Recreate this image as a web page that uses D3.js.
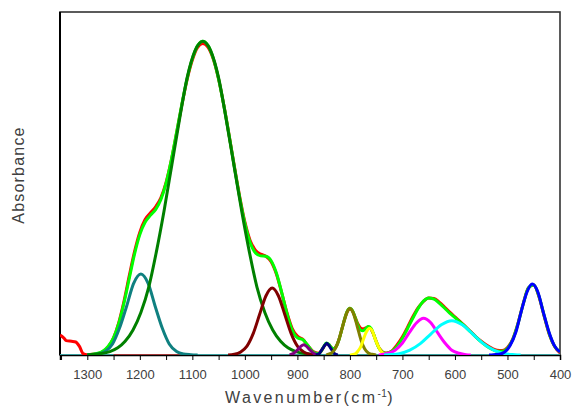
<!DOCTYPE html>
<html>
<head>
<meta charset="utf-8">
<script src="https://cdn.jsdelivr.net/npm/d3@7"></script>
<style>
  body { margin: 0; background: #fff; }
  .tick text { font-family: "Liberation Sans", Arial, sans-serif; font-size: 13px; fill: #404040; }
</style>
</head>
<body>
<div id="chart"></div>
<script>
// --------------------------------------------------------------------------------------
// data - wavenumber (cm-1), absorbance (arb. units)
// --------------------------------------------------------------------------------------
var xTicks = [1300, 1200, 1100, 1000, 900, 800, 700, 600, 500, 400];
var xMinorTicks = [1350, 1250, 1150, 1050, 950, 850, 750, 650, 550, 450];

// measured spectrum (red)
var specWn  = [1352, 1345, 1340, 1330, 1322, 1315, 1308, 1300, 1290, 1280, 1270, 1260, 1250, 1240, 1230, 1220, 1210, 1200,
               1190, 1180, 1170, 1160, 1150, 1140, 1130, 1120, 1110, 1100, 1090, 1080, 1070, 1060, 1050, 1040, 1030, 1020,
               1010, 1000, 990, 980, 970, 960, 950, 940, 930, 920, 910, 900, 890, 880, 870, 860, 855, 850, 845, 840, 835,
               830, 825, 820, 815, 810, 805, 800, 795, 790, 785, 780, 775, 770, 765, 760, 755, 750, 745, 740, 735, 730,
               720, 710, 700, 690, 680, 670, 660, 650, 640, 630, 620, 610, 600, 590, 580, 570, 560, 550, 540, 530, 520,
               510, 500, 490, 480, 470, 460, 450, 440, 430, 420, 410, 400];
var specAbs = [0.058, 0.050, 0.042, 0.040, 0.038, 0.025, 0.004, 0.001, 0.002, 0.004, 0.010, 0.024, 0.050, 0.095, 0.158, 0.232, 0.302, 0.358,
               0.395, 0.414, 0.432, 0.458, 0.503, 0.568, 0.647, 0.729, 0.803, 0.860, 0.897, 0.908, 0.897, 0.862, 0.804, 0.728, 0.641, 0.550,
               0.463, 0.388, 0.334, 0.306, 0.294, 0.288, 0.272, 0.236, 0.182, 0.124, 0.078, 0.055, 0.046, 0.027, 0.010, 0.005, 0.011, 0.023, 0.033, 0.030, 0.021,
               0.019, 0.029, 0.050, 0.077, 0.104, 0.126, 0.134, 0.128, 0.110, 0.091, 0.079, 0.076, 0.079, 0.082, 0.076, 0.060, 0.040, 0.022, 0.012, 0.007, 0.006,
               0.012, 0.030, 0.053, 0.082, 0.112, 0.138, 0.156, 0.166, 0.165, 0.154, 0.140, 0.125, 0.111, 0.097, 0.083, 0.068, 0.053, 0.040, 0.029, 0.020, 0.014,
               0.013, 0.022, 0.046, 0.092, 0.150, 0.196, 0.204, 0.170, 0.112, 0.058, 0.024, 0.006];

// cumulative fit (bright green)
var fitWn  = [1300, 1290, 1280, 1270, 1260, 1250, 1240, 1230, 1220, 1210, 1200, 1190, 1180, 1170, 1160, 1150, 1140, 1130, 1120,
              1110, 1100, 1090, 1080, 1070, 1060, 1050, 1040, 1030, 1020, 1010, 1000, 990, 980, 970, 960, 950, 940, 930, 920,
              910, 900, 890, 880, 870, 860, 855, 850, 845, 840, 835, 830, 825, 820, 815, 810, 805, 800, 795, 790, 785, 780,
              775, 770, 765, 760, 755, 750, 745, 740, 735, 730, 720, 710, 700, 690, 680, 670, 660, 650, 640, 630, 620, 610,
              600, 590, 580, 570, 560, 550, 540, 530, 520, 510, 500, 490, 480, 470, 460, 450, 440, 430, 420, 410, 400];
var fitAbs = [0.001, 0.002, 0.005, 0.012, 0.026, 0.051, 0.093, 0.153, 0.224, 0.295, 0.351, 0.387, 0.407, 0.424, 0.453, 0.501, 0.569, 0.649, 0.731,
              0.806, 0.864, 0.902, 0.915, 0.902, 0.864, 0.804, 0.727, 0.640, 0.548, 0.460, 0.384, 0.328, 0.298, 0.289, 0.288, 0.275, 0.239, 0.183, 0.122,
              0.073, 0.050, 0.045, 0.028, 0.009, 0.004, 0.011, 0.024, 0.035, 0.031, 0.021, 0.018, 0.028, 0.049, 0.077, 0.105, 0.128, 0.136, 0.129, 0.109, 0.087, 0.073,
              0.071, 0.077, 0.083, 0.078, 0.061, 0.039, 0.021, 0.011, 0.006, 0.005, 0.011, 0.026, 0.049, 0.078, 0.108, 0.136, 0.157, 0.166, 0.163, 0.151, 0.137, 0.122,
              0.109, 0.096, 0.082, 0.067, 0.052, 0.038, 0.026, 0.017, 0.011, 0.011, 0.020, 0.045, 0.091, 0.149, 0.196, 0.205, 0.171, 0.114, 0.060, 0.025, 0.009];

// fitted component bands [wavenumber, absorbance]
var band1198 = [[1300, 0], [1293, 0.001], [1279, 0.003], [1266, 0.010], [1252, 0.032], [1239, 0.077], [1225, 0.143], [1212, 0.208], [1198, 0.236],
                [1184, 0.208], [1171, 0.143], [1157, 0.077], [1144, 0.032], [1130, 0.010], [1117, 0.003], [1103, 0.001], [1090, 0]];
var band1080 = [[1300, 0], [1286, 0.002], [1257, 0.010], [1242, 0.021], [1228, 0.040], [1213, 0.073], [1198, 0.124], [1183, 0.198], [1169, 0.297],
                [1154, 0.419], [1139, 0.555], [1124, 0.691], [1110, 0.808], [1095, 0.887], [1080, 0.915], [1065, 0.887], [1050, 0.808],
                [1036, 0.691], [1021, 0.555], [1006, 0.419], [991, 0.297], [977, 0.198], [962, 0.124], [947, 0.073], [932, 0.040],
                [918, 0.021], [903, 0.010], [874, 0.002], [860, 0]];
var band948  = [[1032, 0], [1020, 0.002], [1008, 0.009], [996, 0.026], [984, 0.063], [972, 0.118], [960, 0.172], [948, 0.195],
                [936, 0.172], [924, 0.118], [912, 0.063], [900, 0.026], [888, 0.009], [876, 0.002], [864, 0]];
var band888  = [[915, 0], [908, 0.004], [898, 0.018], [893, 0.026], [888, 0.030], [883, 0.026], [878, 0.018], [868, 0.004], [861, 0]];
var band844  = [[865, 0], [858, 0.005], [851, 0.021], [847, 0.030], [844, 0.034], [841, 0.030], [837, 0.021], [830, 0.005], [823, 0]];
var band800  = [[845, 0], [842, 0.002], [835, 0.006], [828, 0.018], [821, 0.044], [814, 0.083], [807, 0.120], [800, 0.136], [793, 0.120],
                [786, 0.083], [779, 0.044], [772, 0.018], [765, 0.006], [758, 0.002], [750, 0]];
var band763  = [[800, 0], [796, 0.001], [790, 0.003], [785, 0.011], [779, 0.025], [774, 0.047], [768, 0.069], [763, 0.078], [757, 0.069],
                [752, 0.047], [746, 0.025], [741, 0.011], [735, 0.003], [730, 0.001], [725, 0]];
var band660  = [[745, 0], [741, 0.001], [727, 0.005], [714, 0.014], [700, 0.035], [687, 0.065], [673, 0.094], [660, 0.107], [646, 0.094],
                [633, 0.065], [619, 0.035], [606, 0.014], [592, 0.005], [579, 0.001], [570, 0]];
var band606  = [[735, 0], [726, 0.001], [706, 0.004], [686, 0.014], [666, 0.033], [646, 0.061], [626, 0.088], [606, 0.100], [586, 0.088],
                [566, 0.061], [546, 0.033], [526, 0.014], [506, 0.004], [486, 0.001], [475, 0]];
var band453  = [[535, 0], [527, 0.001], [516, 0.002], [505, 0.009], [495, 0.028], [484, 0.067], [474, 0.126], [463, 0.183], [453, 0.207],
                [442, 0.183], [432, 0.126], [421, 0.067], [411, 0.028], [400, 0.009]];
var baseSegment = [[1250, 0], [1115, 0]];

var bands      = [band1198, band1080, band948, band888, band844, band800, band763, band660, band606, band453];
var bandColors = ["#0f8080", "#008000", "#800000", "#800080", "#000080", "#808000", "#ffff00", "#ff00ff", "#00ffff", "#0000ff"];

// --------------------------------------------------------------------------------------
// draw
// --------------------------------------------------------------------------------------
function graph()
{
  var width = 576, height = 410;
  var margin = {top: 12, right: 16, bottom: 55, left: 60};
  var w = width - margin.left - margin.right;
  var h = height - margin.top - margin.bottom;

  var x = d3.scaleLinear().domain([1352, 400]).range([0, w]);
  var y = d3.scaleLinear().domain([0, 1]).range([h, 0]);

  var svg = d3.select("#chart").append("svg")
      .attr("width", width)
      .attr("height", height)
    .append("g")
      .attr("transform", "translate(" + margin.left + "," + margin.top + ")");

  svg.append("clipPath").attr("id", "clip")
    .append("rect").attr("x", 0).attr("y", -2).attr("width", w).attr("height", h + 2);

  // frame
  svg.append("rect")
    .attr("width", w).attr("height", h)
    .attr("fill", "none").attr("stroke", "#333").attr("stroke-width", 1.6);

  // minor + major ticks on the bottom axis
  svg.append("g")
      .attr("transform", "translate(0," + h + ")")
      .call(d3.axisBottom(x).tickValues(xMinorTicks).tickSize(5).tickFormat(""))
      .call(function(g) { g.select(".domain").remove(); });

  var xAxis = svg.append("g")
      .attr("transform", "translate(0," + h + ")")
      .call(d3.axisBottom(x).tickValues(xTicks).tickSize(5).tickPadding(10).tickFormat(d3.format("d")));
  xAxis.select(".domain").attr("stroke", "#000").attr("stroke-width", 1.5);

  // left axis line
  svg.append("line")
    .attr("x1", 0).attr("x2", 0).attr("y1", 0).attr("y2", h)
    .attr("stroke", "#000").attr("stroke-width", 2);

  var line = d3.line()
      .x(function(d) { return x(d[0]); })
      .y(function(d) { return y(d[1]); })
      .curve(d3.curveMonotoneX);

  var plot = svg.append("g").attr("clip-path", "url(#clip)");

  // teal zero line of the fit
  plot.append("line")
    .attr("x1", x(1352)).attr("x2", x(400)).attr("y1", y(0)).attr("y2", y(0))
    .attr("stroke", "#3b9d9d").attr("stroke-width", 2);

  plot.append("path")
    .datum(baseSegment)
    .attr("d", line)
    .attr("fill", "none").attr("stroke", "#a03a3a").attr("stroke-width", 2);

  // measured spectrum
  plot.append("path")
    .datum(d3.zip(specWn, specAbs))
    .attr("d", line)
    .attr("fill", "none").attr("stroke", "#ff0000").attr("stroke-width", 3);

  // cumulative fit
  plot.append("path")
    .datum(d3.zip(fitWn, fitAbs))
    .attr("d", line)
    .attr("fill", "none").attr("stroke", "#00ff00").attr("stroke-width", 3);

  // component bands
  plot.selectAll(".band")
      .data(bands)
      .enter().append("path")
      .attr("class", "band")
      .attr("d", line)
      .attr("fill", "none")
      .attr("stroke", function(d, i) { return bandColors[i]; })
      .attr("stroke-width", 3)
      .attr("stroke-linejoin", "round");

  // axis titles
  var title = svg.append("text")
    .attr("x", w / 2)
    .attr("y", h + 48)
    .attr("text-anchor", "middle")
    .style("font-family", "'Liberation Sans', Arial, sans-serif")
    .style("font-size", "16px")
    .style("letter-spacing", "2.4px")
    .style("fill", "#404040");
  title.append("tspan").text("Wavenumber(cm");
  title.append("tspan").attr("dy", -6).style("font-size", "10px").style("letter-spacing", "0.5px").text("-1");
  title.append("tspan").attr("dy", 6).text(")");

  svg.append("text")
    .attr("transform", "translate(" + (-36) + "," + (175 - margin.top) + ") rotate(-90)")
    .attr("text-anchor", "middle")
    .style("font-family", "'Liberation Sans', Arial, sans-serif")
    .style("font-size", "16px")
    .style("letter-spacing", "1.2px")
    .style("fill", "#404040")
    .text("Absorbance");
}
// --------------------------------------------------------------------------------------
graph();
</script>
</body>
</html>
